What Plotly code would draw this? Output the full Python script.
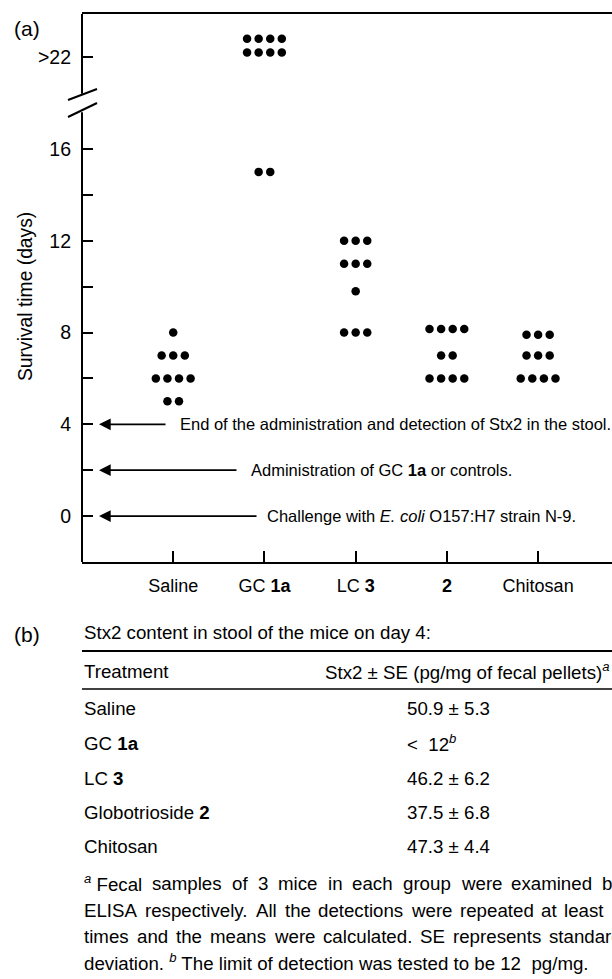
import plotly.graph_objects as go

W, H = 612, 979

# ---------------- data ----------------
categories = ["Saline", "GC 1a", "LC 3", "2", "Chitosan"]
tick_text = ["Saline", "GC <b>1a</b>", "LC <b>3</b>", "<b>2</b>", "Chitosan"]
saline = [8, 7, 7, 7, 6, 6, 6, 6, 5, 5]
gc_1a = [20.8, 20.8, 20.8, 20.8, 20.2, 20.2, 20.2, 20.2, 15, 15]  # top rows sit at the ">22" position
lc_3 = [12, 12, 12, 11, 11, 11, 9.8, 8, 8, 8]
glob_2 = [8.15, 8.15, 8.15, 8.15, 7, 7, 6, 6, 6, 6]
chitosan = [7.9, 7.9, 7.9, 7, 7, 7, 6, 6, 6, 6]
series = [saline, gc_1a, lc_3, glob_2, chitosan]
y_tick_vals = [0, 2, 4, 6, 8, 10, 12, 14, 16, 20]
y_tick_text = ["0", "", "4", "", "8", "", "12", "", "16", ">22"]

events = [
    (4, "End of the administration and detection of Stx2 in the stool."),
    (2, "Administration of GC <b>1a</b> or controls."),
    (0, "Challenge with <i>E. coli</i> O157:H7 strain N-9."),
]
table_title = "Stx2 content in stool of the mice on day 4:"
table_header = ["Treatment", "Stx2 ± SE (pg/mg of fecal pellets)<sup><i>a</i></sup>"]
table_rows = ["Saline", "GC <b>1a</b>", "LC <b>3</b>", "Globotrioside <b>2</b>", "Chitosan"]
table_values = ["50.9 ± 5.3", "<  12<sup><i>b</i></sup>", "46.2 ± 6.2", "37.5 ± 6.8", "47.3 ± 4.4"]
foot_lines = [
    ["<sup><i>a</i></sup> Fecal", "samples", "of", "3", "mice", "in", "each", "group", "were", "examined", "by"],
    ["ELISA", "respectively.", "All", "the", "detections", "were", "repeated", "at", "least", "3"],
    ["times", "and", "the", "means", "were", "calculated.", "SE", "represents", "standard"],
]
foot_last = "deviation. <sup><i>b</i></sup> The limit of detection was tested to be 12  pg/mg."

FONT = "Liberation Sans, Arial, sans-serif"

# --------------- helpers ---------------
AW = {' ': 278, 'a': 556, 'b': 556, 'c': 500, 'd': 556, 'e': 556, 'f': 278, 'g': 556, 'h': 556,
      'i': 222, 'j': 222, 'k': 500, 'l': 222, 'm': 833, 'n': 556, 'o': 556, 'p': 556, 'q': 556,
      'r': 333, 's': 500, 't': 278, 'u': 556, 'v': 500, 'w': 722, 'x': 500, 'y': 500, 'z': 500,
      'A': 667, 'E': 667, 'I': 278, 'L': 556, 'S': 667, 'F': 611, 'T': 611,
      '.': 278, ',': 278, '0': 556, '1': 556, '2': 556, '3': 556}


def text_w(word, size):
    w = 0.0
    if word.startswith("<sup>"):
        w += 0.556 * size * 0.7
        word = word.split("</sup>", 1)[1]
    return w + sum(AW.get(c, 556) for c in word) / 1000.0 * size


def px(xp):
    return xp / W


def py(yp):
    return 1 - yp / H


def label(text, x, y, size, xanchor="left", yanchor="middle", **kw):
    fig.add_annotation(text=text, xref="paper", yref="paper", x=px(x), y=py(y),
                       xanchor=xanchor, yanchor=yanchor, showarrow=False,
                       font=dict(size=size, family=FONT, color="black"), **kw)


# --------------- figure ---------------
fig = go.Figure()
step = 0.127
for i, vals in enumerate(series):
    xs, ys = [], []
    groups = {}
    for v in vals:
        groups.setdefault(v, 0)
        groups[v] += 1
    for v, n in groups.items():
        for k in range(n):
            xs.append(i + (k - (n - 1) / 2) * step)
            ys.append(v)
    fig.add_trace(go.Scatter(x=xs, y=ys, mode="markers", name=categories[i],
                             marker=dict(color="black", size=8.5, line=dict(width=0)),
                             hoverinfo="skip"))

Y0, Y1 = -2, 21.88
fig.update_layout(
    width=W, height=H, margin=dict(l=0, r=0, t=0, b=0),
    paper_bgcolor="white", plot_bgcolor="white", showlegend=False,
    font=dict(family=FONT, color="black", size=16),
    xaxis=dict(domain=[82 / W, 1], range=[-1, 4.81], tickvals=list(range(5)), ticktext=tick_text,
               ticks="inside", ticklen=11, tickwidth=2, tickcolor="black",
               showline=True, linewidth=2, linecolor="black", mirror=True,
               showgrid=False, zeroline=False, tickfont=dict(size=18, family=FONT),
               ticklabelstandoff=6, fixedrange=True),
    yaxis=dict(domain=[py(562), py(14)], range=[Y0, Y1], tickvals=y_tick_vals, ticktext=y_tick_text,
               ticks="inside", ticklen=11, tickwidth=2, tickcolor="black",
               showline=False, showgrid=False, zeroline=False,
               tickfont=dict(size=19.5, family=FONT), ticklabelstandoff=10, fixedrange=True),
)

# y axis line with a break
ax_x = px(82)
for a, b in [(Y0, 17.6), (18.4, Y1)]:
    fig.add_shape(type="line", xref="paper", yref="y", x0=ax_x, x1=ax_x, y0=a, y1=b,
                  line=dict(color="black", width=2))
for (x0, y0, x1, y1) in [(68, 100, 97, 89), (68, 117, 97, 103)]:
    fig.add_shape(type="line", xref="paper", yref="paper", x0=px(x0), y0=py(y0), x1=px(x1), y1=py(y1),
                  line=dict(color="black", width=2))

# axis title and panel labels
label("Survival time (days)", 25, 297, 19.3, xanchor="center", textangle=-90)
label("(a)", 27, 28, 21, xanchor="center")

# event arrows
arrow_tip = 99
arrow_tail = {4: 167, 2: 238, 0: 258}
text_start = {4: 178, 2: 249, 0: 265}
for yv, txt in events:
    fig.add_annotation(text="", xref="paper", yref="y", x=px(arrow_tip), y=yv, axref="pixel", ayref="pixel",
                       ax=arrow_tail[yv] - arrow_tip, ay=0, showarrow=True, arrowhead=2, arrowsize=1.3,
                       arrowwidth=1.8, arrowcolor="black", standoff=0, startstandoff=0)
    fig.add_annotation(text=txt, xref="paper", yref="y", x=px(text_start[yv]), y=yv,
                       xanchor="left", yanchor="middle", showarrow=False,
                       font=dict(size=16.5, family=FONT, color="black"))

# ---------------- panel (b) table ----------------
TS = 18.7
label("(b)", 27, 634, 21, xanchor="center")
label(table_title, 82, 632, TS)
fig.add_shape(type="line", xref="paper", yref="paper", x0=px(82), x1=1, y0=py(651), y1=py(651),
              line=dict(color="black", width=2))
label(table_header[0], 82, 671, TS)
label(table_header[1], 611, 671, TS, xanchor="right")
fig.add_shape(type="line", xref="paper", yref="paper", x0=px(82), x1=1, y0=py(689), y1=py(689),
              line=dict(color="black", width=1.4))
row_y = [708, 743, 778, 812, 846]
for name, val, yy in zip(table_rows, table_values, row_y):
    label(name, 82, yy, TS)
    label(val, 405, yy, TS)

# justified footnote lines (word by word)
FS = 18.7
x_left, x_right = 82, 620
foot_y = [883, 910, 936, 962]
for words, yy in zip(foot_lines, foot_y):
    widths = [text_w(w, FS) for w in words]
    gap = (x_right - x_left - sum(widths)) / (len(words) - 1)
    xcur = x_left
    for w, wd in zip(words, widths):
        label(w, xcur, yy, FS)
        xcur += wd + gap
label(foot_last, 82, foot_y[3], FS)

fig.write_html("out.html", include_plotlyjs=True, config={"displayModeBar": False})
